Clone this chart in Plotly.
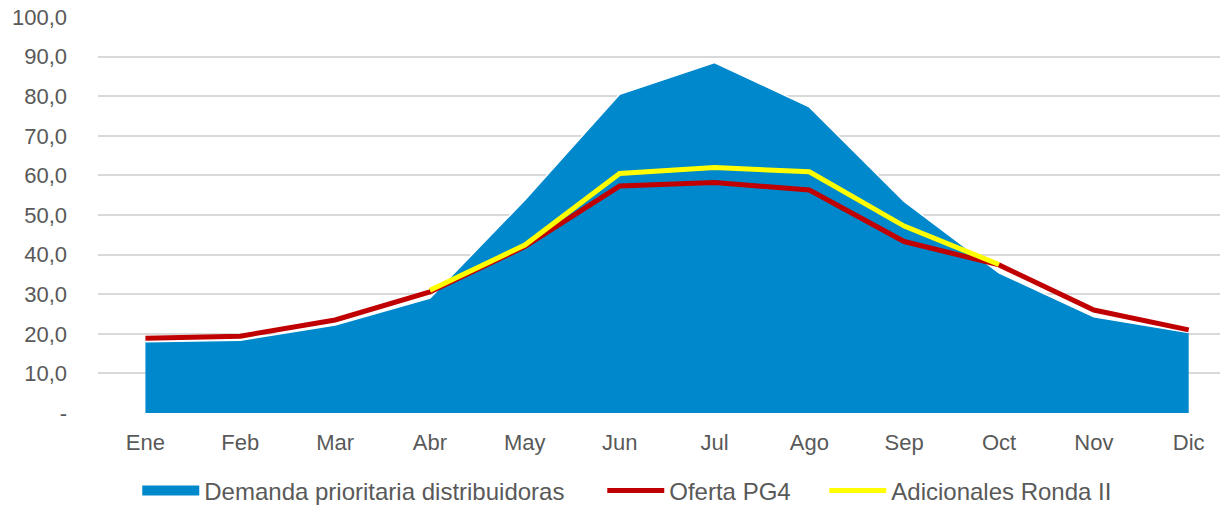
import plotly.graph_objects as go

meses = ["Ene", "Feb", "Mar", "Abr", "May", "Jun", "Jul", "Ago", "Sep", "Oct", "Nov", "Dic"]
demanda = [18.0, 18.4, 22.2, 29.0, 53.8, 80.5, 88.5, 77.3, 53.4, 35.4, 24.3, 20.3]
oferta_pg4 = [18.9, 19.4, 23.5, 30.6, 42.0, 57.3, 58.2, 56.3, 43.3, 37.4, 26.0, 21.0]
adicionales = [None, None, None, 31.0, 42.4, 60.5, 62.0, 60.9, 47.2, 37.5, None, None]

y_ticks = [0, 10, 20, 30, 40, 50, 60, 70, 80, 90, 100]
y_labels = ["-", "10,0", "20,0", "30,0", "40,0", "50,0", "60,0", "70,0", "80,0", "90,0", "100,0"]

BLUE = "#0088CC"
fig = go.Figure()
fig.add_trace(go.Scatter(
    x=meses, y=demanda, name="Demanda prioritaria distribuidoras",
    mode="lines", fill="tozeroy", fillcolor=BLUE,
    line=dict(color="white", width=1.5), showlegend=False,
    legendgroup="dem",
))
# legend-only entry with a rectangular swatch
fig.add_trace(go.Scatter(
    x=[None], y=[None], name="Demanda prioritaria distribuidoras",
    mode="lines", line=dict(color=BLUE, width=12), legendwidth=393,
    legendgroup="dem", legendrank=1,
))
fig.add_trace(go.Scatter(
    x=meses, y=oferta_pg4, name="Oferta PG4", mode="lines",
    line=dict(color="#C00000", width=5), legendwidth=150, legendrank=2,
))
fig.add_trace(go.Scatter(
    x=meses, y=adicionales, name="Adicionales Ronda II", mode="lines",
    line=dict(color="#FFFF00", width=5), connectgaps=False, legendrank=3,
))

tick_font = dict(family="Liberation Sans, Arial, sans-serif", size=22, color="#595959")
legend_font = dict(family="Liberation Sans, Arial, sans-serif", size=24, color="#595959")
fig.update_layout(
    width=1220, height=506,
    margin=dict(l=98, r=0, t=17, b=93, autoexpand=False),
    paper_bgcolor="white", plot_bgcolor="white",
    font=tick_font,
    showlegend=True,
    legend=dict(orientation="h", x=0.035, xanchor="left", y=-0.14, yanchor="top",
                font=legend_font, traceorder="normal", itemwidth=57,
                entrywidthmode="pixels"),
    xaxis=dict(type="category", range=[-0.5, 11.33], showgrid=False,
               showline=False, ticks="", tickfont=tick_font, automargin=False,
               ticklabelstandoff=14),
    yaxis=dict(range=[0, 100], tickvals=y_ticks, ticktext=y_labels,
               showgrid=True, gridcolor="#D9D9D9", gridwidth=2, zeroline=False,
               ticks="", tickfont=tick_font, ticklabelstandoff=30, automargin=False),
)
fig.write_html("out.html", config={"displayModeBar": False},
               post_script="document.body.style.margin='0';document.body.style.overflow='hidden';")
